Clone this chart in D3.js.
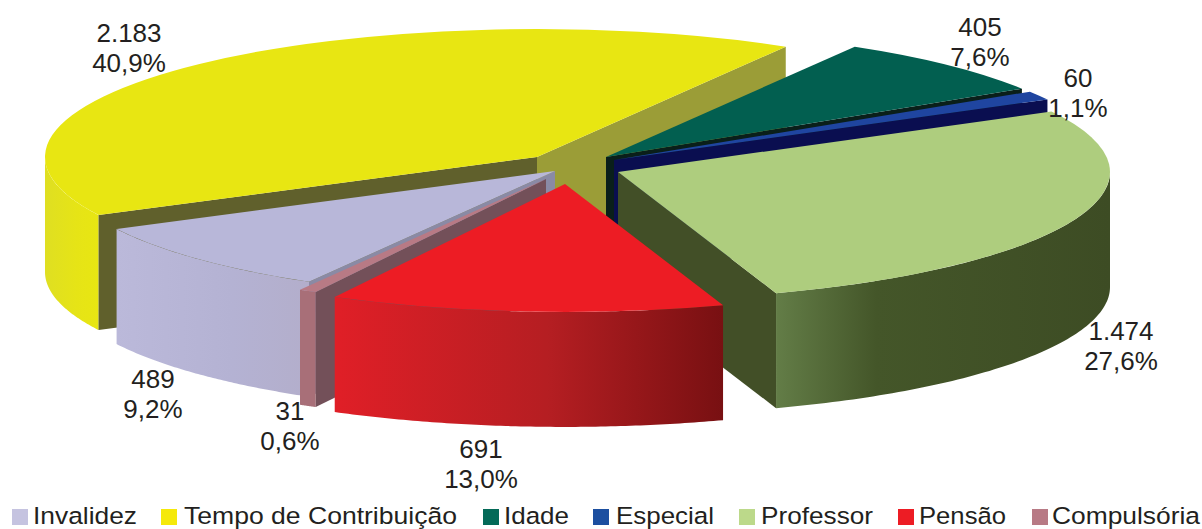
<!DOCTYPE html>
<html>
<head>
<meta charset="utf-8">
<script src="https://cdn.jsdelivr.net/npm/d3@7"></script>
<style>
html,body{margin:0;padding:0;background:#fff;overflow:hidden}
svg{display:block}
text{font-family:"Liberation Sans",Arial,sans-serif;fill:#231f20}
</style>
</head>
<body>
<svg id="c" width="1202" height="529"></svg>
<script>
const categories = ["Invalidez","Tempo de Contribuição","Idade","Especial","Professor","Pensão","Compulsória"];
const values = [489,2183,405,60,1474,691,31];

const legendColors = ["#c5c3e0","#f5e90a","#046a58","#1c4fa0","#bcd98a","#ed1c24","#b87a85"];
const topColors    = ["#b8b7d9","#e8e612","#025f50","#1f45a0","#aecd7e","#ed1c24","#b87a85"];
const startWall    = ["#8a8aa5","#60602c","#0a1f1a","#0a0e50","#424f27","#7d1216","#735059"];
const endWall      = ["#8a8aa5","#9b9d37","#0a1f1a","#0a0e50","#424f27","#7d1216","#735059"];
const outerStops   = [
  [["#bbb9da",0],["#b4b2d3",.6],["#b3aecb",1]],
  [["#dfdf22",0],["#e6e416",.6],["#e8e612",1]],
  [["#0a1f1a",0],["#0a1f1a",1]],
  [["#0a0e50",0],["#0a0e50",1]],
  [["#637d47",0],["#445629",.3],["#3d4c24",1]],
  [["#e01f27",0],["#b51e22",.55],["#781012",1]],
  [["#a86f78",0],["#a86f78",1]]
];
const paintOrder = [1,2,3,4,0,6,5];
const explode = [[-16,4.5],[-34,-9.5],[35,-9.5],[43,-6.5],[47,5.5],[-6,17.5],[-25,12.5]];
const labelPos = [[153,379],[129,33],[980,27],[1078,78],[1121,331],[481,449],[290,411]];
const legendSquares = [12,161,483,593,739,898,1032];
const legendText = [[33,104],[184,273],[504,65],[616,98],[761,112],[919,87],[1052,148]];

const cx=571, cy=166.5, R=492, k=0.26, H=115;
const svg=d3.select("#c");
const toRad=d=>d*Math.PI/180;
const pie=d3.pie().sort(null).startAngle(toRad(210)).endAngle(toRad(570));
const arcs=pie(values);
const total=d3.sum(values);
const loc=d3.formatLocale({decimal:",",thousands:".",grouping:[3],currency:["R$",""]});
const fmtV=loc.format(",d"), fmtP=loc.format(".1f");

const defs=svg.append("defs");
const arcGen=d3.arc().innerRadius(0).outerRadius(R);
const px=a=>R*Math.sin(a), py=a=>-k*R*Math.cos(a);

paintOrder.forEach(i=>{
  const a=arcs[i], ox=cx+explode[i][0], oy=cy+explode[i][1];
  const g=svg.append("g").attr("transform",`translate(${ox},${oy})`);
  // outer wall: only the part facing the viewer
  const tau=2*Math.PI;
  const s=a.startAngle, e=a.endAngle;
  const windows=[[Math.PI/2,3*Math.PI/2],[Math.PI/2+tau,3*Math.PI/2+tau]];
  windows.forEach((w,wi)=>{
    const lo=Math.max(s,w[0]), hi=Math.min(e,w[1]);
    if(hi<=lo) return;
    const id="g"+i+"_"+wi;
    const x1=d3.min([px(lo),px(hi)]);
    const x2=d3.max([px(lo),px(hi)]);
    const grad=defs.append("linearGradient").attr("id",id).attr("gradientUnits","userSpaceOnUse")
      .attr("x1",x1).attr("x2",x2).attr("y1",0).attr("y2",0);
    outerStops[i].forEach(st=>grad.append("stop").attr("offset",st[1]).attr("stop-color",st[0]));
    const n=80, samples=d3.range(n+1).map(j=>lo+(hi-lo)*j/n);
    g.append("path").attr("fill",`url(#${id})`)
      .attr("d",d3.area().x(px).y0(py).y1(t=>py(t)+H)(samples));
  });
  // radial walls facing the viewer
  const wall=(ang,color)=>{
    const pts=[[0,0],[px(ang),py(ang)],[px(ang),py(ang)+H],[0,H]];
    g.append("path").attr("fill",color).attr("d",d3.line()(pts)+"Z");
  };
  if(-Math.sin(s)>0) wall(s,startWall[i]);
  if(Math.sin(e)>0) wall(e,endWall[i]);
  // top face
  g.append("g").attr("transform",`scale(1,${k})`)
    .append("path").attr("fill",topColors[i]).attr("d",arcGen(a));
});

// labels
categories.forEach((c,i)=>{
  const t=svg.append("g").attr("text-anchor","middle").attr("font-size",26);
  t.append("text").attr("x",labelPos[i][0]).attr("y",labelPos[i][1]+9).text(fmtV(values[i]));
  t.append("text").attr("x",labelPos[i][0]).attr("y",labelPos[i][1]+39).text(fmtP(values[i]/total*100)+"%");
});

// legend
categories.forEach((c,i)=>{
  svg.append("rect").attr("x",legendSquares[i]).attr("y",509).attr("width",16).attr("height",16).attr("fill",legendColors[i]);
  svg.append("text").attr("x",legendText[i][0]).attr("y",523.5).attr("font-size",24.5)
    .attr("textLength",legendText[i][1]).attr("lengthAdjust","spacingAndGlyphs").text(c);
});
</script>
</body>
</html>
